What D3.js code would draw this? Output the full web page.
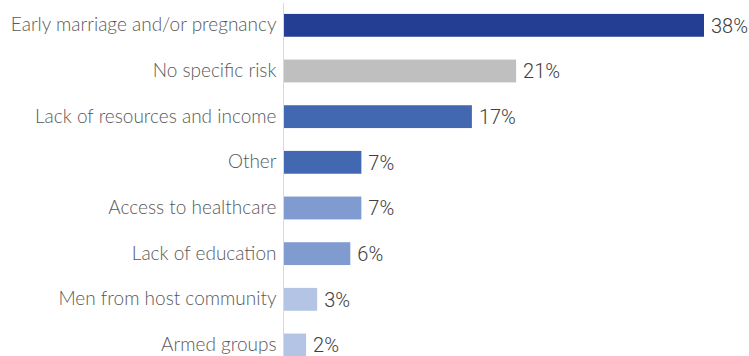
<!DOCTYPE html>
<html>
<head>
<meta charset="utf-8">
<script src="https://cdn.jsdelivr.net/npm/d3@7"></script>
<style>
  html, body { margin: 0; padding: 0; background: #fff; }
  svg { display: block; }
</style>
</head>
<body>
<svg id="chart" width="749" height="356"></svg>
<script>
// Reported risks, share of respondents (%)
const categories = [
  "Early marriage and/or pregnancy",
  "No specific risk",
  "Lack of resources and income",
  "Other",
  "Access to healthcare",
  "Lack of education",
  "Men from host community",
  "Armed groups"
];
const values = [38, 21, 17, 7, 7, 6, 3, 2];
const barColors = ["#233e93", "#bfbfbf", "#4168b0", "#4168b0", "#7f9bd0", "#7f9bd0", "#b4c4e4", "#b4c4e4"];

const svg = d3.select("#chart");
const axisX = 283.5;

const x = d3.scaleLinear().domain([0, 38]).range([284, 704]);
const y = d3.scaleBand()
  .domain(categories)
  .range([2.5, 367.8])
  .paddingInner(0.5)
  .paddingOuter(0.25);

// bars
svg.append("g")
  .selectAll("rect")
  .data(values)
  .join("rect")
  .attr("x", x(0))
  .attr("y", (d, i) => y(categories[i]))
  .attr("width", d => x(d) - x(0))
  .attr("height", y.bandwidth())
  .attr("fill", (d, i) => barColors[i]);

// category axis
const yAxis = svg.append("g")
  .attr("transform", `translate(${axisX},0)`)
  .call(d3.axisLeft(y).tickSize(0).tickPadding(7));
yAxis.select(".domain").remove();
yAxis.selectAll("text")
  .attr("font-family", "Lato, 'Open Sans', sans-serif")
  .attr("font-weight", 300)
  .attr("font-size", 19)
  .attr("fill", "#595959");

svg.append("line")
  .attr("x1", axisX).attr("x2", axisX)
  .attr("y1", 3).attr("y2", 356)
  .attr("stroke", "#d9d9d9")
  .attr("stroke-width", 1);

// value labels
svg.append("g")
  .selectAll("text")
  .data(values)
  .join("text")
  .attr("x", d => x(d) + 7)
  .attr("y", (d, i) => y(categories[i]) + y.bandwidth() / 2)
  .attr("dy", "0.36em")
  .attr("font-family", "Roboto, sans-serif")
  .attr("font-weight", 300)
  .attr("font-size", 20)
  .attr("fill", "#404040")
  .text(d => d + "%");
</script>
</body>
</html>
